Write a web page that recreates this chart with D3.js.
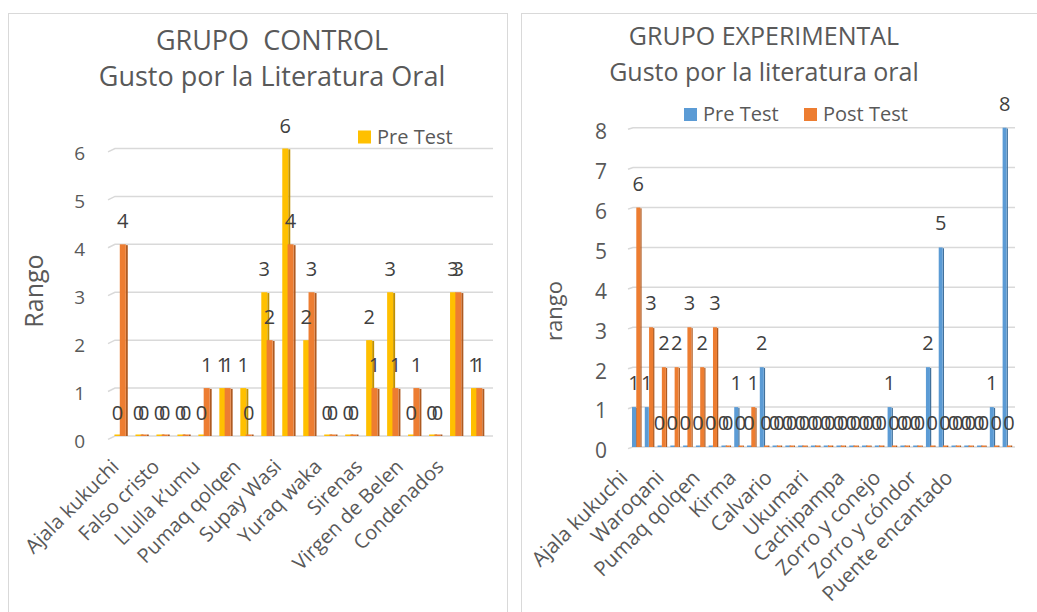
<!DOCTYPE html>
<html>
<head>
<meta charset="utf-8">
<script src="https://cdn.jsdelivr.net/npm/d3@7"></script>
<style>
  body { margin: 0; background: #fff; }
  text { font-family: "Open Sans", "Noto Sans", sans-serif; fill: #595959; }
</style>
</head>
<body>
<script>
// Grupo control: 18 relatos, solo uno de cada dos lleva rotulo en el eje
const controlCategories = ["Ajala kukuchi", "", "Falso cristo", "", "Llulla k’umu", "", "Pumaq qolqen", "",
  "Supay Wasi", "", "Yuraq waka", "", "Sirenas", "", "Virgen de Belen", "", "Condenados", ""];
const controlPre  = [0, 0, 0, 0, 0, 1, 1, 3, 6, 2, 0, 0, 2, 3, 0, 0, 3, 1];
const controlPost = [4, 0, 0, 0, 1, 1, 0, 2, 4, 3, 0, 0, 1, 1, 1, 0, 3, 1];
const controlTicks = [0, 1, 2, 3, 4, 5, 6];

// Grupo experimental: 30 relatos, rotulo cada tres
const expCategories = ["Ajala kukuchi", "", "", "Waroqani", "", "", "Pumaq qolqen", "", "", "Kirma", "", "",
  "Calvario", "", "", "Ukumari", "", "", "Cachipampa", "", "", "Zorro y conejo", "", "",
  "Zorro y cóndor", "", "", "Puente encantado", "", ""];
const expPre  = [1, 1, 0, 0, 0, 0, 0, 0, 1, 0, 2, 0, 0, 0, 0, 0, 0, 0, 0, 0, 1, 0, 0, 2, 5, 0, 0, 0, 1, 8];
const expPost = [6, 3, 2, 2, 3, 2, 3, 0, 0, 1, 0, 0, 0, 0, 0, 0, 0, 0, 0, 0, 0, 0, 0, 0, 0, 0, 0, 0, 0, 0];
const expTicks = [0, 1, 2, 3, 4, 5, 6, 7, 8];

const svg = d3.select("body").append("svg")
    .attr("width", 1037)
    .attr("height", 612);

// marcos de las dos figuras
svg.append("rect").attr("x", 8.5).attr("y", 13.5).attr("width", 499).attr("height", 640)
    .attr("fill", "none").attr("stroke", "#d9d9d9");
svg.append("rect").attr("x", 521.5).attr("y", 13.5).attr("width", 540).attr("height", 640)
    .attr("fill", "none").attr("stroke", "#d9d9d9");

function drawChart(cfg) {
  const g = svg.append("g");
  const idx = d3.range(cfg.categories.length);

  const x = d3.scaleBand().domain(idx).range(cfg.barRange);
  const xLabel = d3.scaleBand().domain(idx).range(cfg.labelRange);
  const y = d3.scaleLinear().domain([0, d3.max(cfg.ticks)]).range(cfg.yRange);

  // lineas de division con el pequeño quiebre 3D de la pared
  g.append("g").selectAll("path")
    .data(cfg.ticks)
    .join("path")
      .attr("d", d => `M${cfg.gridX[0]},${y(d) + cfg.slant[1]}L${cfg.gridX[0] + cfg.slant[0]},${y(d)}H${cfg.gridX[1]}`)
      .attr("fill", "none")
      .attr("stroke", "#d9d9d9")
      .attr("stroke-width", 1.5);

  g.append("g").selectAll("text")
    .data(cfg.ticks)
    .join("text")
      .attr("x", cfg.tickX)
      .attr("y", d => y(d) + cfg.tickDy)
      .attr("dy", "0.35em")
      .attr("text-anchor", "end")
      .style("font-size", cfg.tickSize + "px")
      .text(d => d);

  // barras: cara frontal + lateral oscura
  cfg.series.forEach(s => {
    const bars = g.append("g").selectAll("g")
      .data(s.values)
      .join("g");
    const bx = (d, i) => x(i) + x.bandwidth() / 2 + s.offset;
    bars.append("rect")
        .attr("x", (d, i) => bx(d, i) + cfg.barW)
        .attr("y", d => d > 0 ? y(d) + 0.8 : y(0) - 1.5)
        .attr("width", cfg.sideW)
        .attr("height", d => d > 0 ? y(0) - y(d) - 0.8 : 1.5)
        .attr("fill", s.side);
    bars.append("rect")
        .attr("x", (d, i) => bx(d, i))
        .attr("y", d => d > 0 ? y(d) : y(0) - 1.5)
        .attr("width", cfg.barW)
        .attr("height", d => d > 0 ? y(0) - y(d) : 1.5)
        .attr("fill", s.color);
  });

  // etiquetas de datos
  cfg.series.forEach(s => {
    g.append("g").selectAll("text")
      .data(s.values)
      .join("text")
        .attr("x", (d, i) => x(i) + x.bandwidth() / 2 + s.offset + cfg.barW / 2)
        .attr("y", d => y(d) - cfg.labelGap)
        .attr("text-anchor", "middle")
        .style("font-size", cfg.labelSize + "px")
        .style("fill", "#404040")
        .text(d => d);
  });

  // rotulos del eje x girados
  g.append("g").selectAll("text")
    .data(idx.filter(i => cfg.categories[i] !== ""))
    .join("text")
      .attr("transform", i => `translate(${xLabel(i) + xLabel.bandwidth() / 2},${cfg.catY}) rotate(-45)`)
      .attr("text-anchor", "end")
      .style("font-size", cfg.catSize + "px")
      .text(i => cfg.categories[i]);

  g.append("text")
      .attr("transform", `translate(${cfg.axisTitle[0]},${cfg.axisTitle[1]}) rotate(-90)`)
      .attr("text-anchor", "middle")
      .style("font-size", cfg.axisTitleSize + "px")
      .text(cfg.axisTitleText);

  cfg.titles.forEach(t => {
    g.append("text")
        .attr("x", cfg.titleX)
        .attr("y", t.y)
        .attr("text-anchor", "middle")
        .attr("xml:space", "preserve")
        .style("font-size", cfg.titleSize + "px")
        .style("white-space", "pre")
        .text(t.text);
  });

  const leg = g.append("g").selectAll("g")
    .data(cfg.legend)
    .join("g")
      .attr("transform", d => `translate(${d.x},${cfg.legendY})`);
  leg.append("rect")
      .attr("y", -13)
      .attr("width", 13)
      .attr("height", 13)
      .attr("fill", d => d.color);
  leg.append("text")
      .attr("x", 19)
      .attr("y", 0)
      .style("font-size", "20px")
      .text(d => d.name);
}

drawChart({
  categories: controlCategories,
  ticks: controlTicks,
  barRange: [110, 487.5],
  labelRange: [110, 475.4],
  yRange: [436, 148.5],
  gridX: [108, 493],
  slant: [7, 3.4],
  tickX: 85, tickDy: 5, tickSize: 19,
  barW: 6, sideW: 2,
  labelGap: 16, labelSize: 20,
  catY: 468, catSize: 20,
  series: [
    { values: controlPre, offset: -6, color: "#ffc000", side: "#bf9000" },
    { values: controlPost, offset: -0.7, color: "#ed7d31", side: "#ae5a21" }
  ],
  axisTitle: [43, 291], axisTitleSize: 25, axisTitleText: "Rango",
  titleX: 272, titleSize: 27,
  titles: [{ text: "GRUPO  CONTROL", y: 50 }, { text: "Gusto por la Literatura Oral", y: 86 }],
  legendY: 143.5,
  legend: [{ name: "Pre Test", color: "#ffc000", x: 358 }]
});

drawChart({
  categories: expCategories,
  ticks: expTicks,
  barRange: [629.6, 1013],
  labelRange: [623, 984.2],
  yRange: [447, 127.7],
  gridX: [628, 1015],
  slant: [5, 1.6],
  tickX: 607, tickDy: 4, tickSize: 21,
  barW: 4, sideW: 1.3,
  labelGap: 17, labelSize: 20,
  catY: 479, catSize: 20.5,
  series: [
    { values: expPre, offset: -4, color: "#5b9bd5", side: "#41719c" },
    { values: expPost, offset: 0.3, color: "#ed7d31", side: "#ae5a21" }
  ],
  axisTitle: [562, 311], axisTitleSize: 22, axisTitleText: "rango",
  titleX: 764, titleSize: 25,
  titles: [{ text: "GRUPO EXPERIMENTAL", y: 45 }, { text: "Gusto por la literatura oral", y: 81 }],
  legendY: 121,
  legend: [{ name: "Pre Test", color: "#5b9bd5", x: 684 }, { name: "Post Test", color: "#ed7d31", x: 804 }]
});
</script>
</body>
</html>
